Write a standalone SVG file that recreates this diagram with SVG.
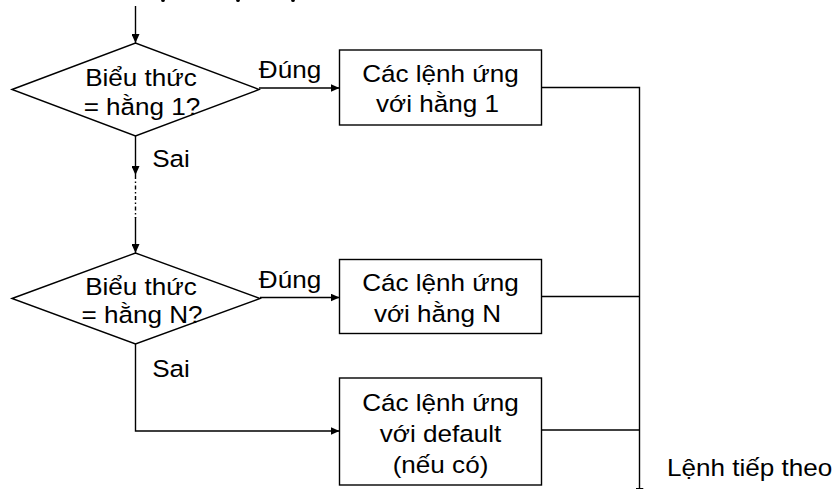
<svg xmlns="http://www.w3.org/2000/svg" width="836" height="489" viewBox="0 0 836 489">
  <style>
    .shape { fill: #fff; stroke: #000; stroke-width: 1.4; }
    .line { fill: none; stroke: #000; stroke-width: 1.4; }
    .dash { stroke-dasharray: 4 2.5 1.5 2.5; }
    .lbl { font-family: "Liberation Sans", Arial, sans-serif; font-size: 23.5px; fill: #000; text-anchor: middle; }
    .lbl-l { font-family: "Liberation Sans", Arial, sans-serif; font-size: 23.5px; fill: #000; text-anchor: start; }
  </style>
  <defs>
    <marker id="arrow" markerUnits="userSpaceOnUse" markerWidth="10" markerHeight="8" refX="9" refY="4" orient="auto">
      <path d="M0,0 L9,4 L0,8 Z" fill="#000"/>
    </marker>
  </defs>
  <rect width="836" height="489" fill="#fff"/>

  <!-- remnants of the heading above the chart -->
  <g id="heading-marks" fill="#000">
    <ellipse cx="163" cy="0.5" rx="1.8" ry="1.5"/>
    <ellipse cx="238" cy="0.5" rx="1.8" ry="1.5"/>
    <ellipse cx="293" cy="0.5" rx="1.8" ry="1.5"/>
  </g>

  <g id="connectors">
    <path class="line" d="M135.5 6 V43" marker-end="url(#arrow)"/>
    <path class="line" d="M135.5 136 V175" marker-end="url(#arrow)"/>
    <path class="line dash" d="M135.5 175 V218"/>
    <path class="line" d="M135.5 217 V253" marker-end="url(#arrow)"/>
    <path class="line" d="M259 88 H339.5" marker-end="url(#arrow)"/>
    <path class="line" d="M260 297.5 H339.5" marker-end="url(#arrow)"/>
    <path class="line" d="M135.5 344 V431 H339.5" marker-end="url(#arrow)"/>
    <path class="line" d="M541.5 87.5 H639.5 V497" marker-end="url(#arrow)"/>
    <path class="line" d="M541.5 296.5 H639.5"/>
    <path class="line" d="M541.5 430 H639.5"/>
    <text class="lbl" transform="translate(290 78) scale(1.11 1)">Đúng</text>
    <text class="lbl" transform="translate(290 288) scale(1.11 1)">Đúng</text>
    <text class="lbl" transform="translate(171 167) scale(1.11 1)">Sai</text>
    <text class="lbl" transform="translate(171 377) scale(1.11 1)">Sai</text>
    <text class="lbl-l" transform="translate(667 476) scale(1.11 1)">Lệnh tiếp theo</text>
  </g>

  <g id="cond-1">
    <polygon class="shape" points="12,89.5 135.5,43 259,89.5 135.5,136"/>
    <text class="lbl" transform="translate(141 85.5) scale(1.11 1)">Biểu thức</text>
    <text class="lbl" transform="translate(142 115) scale(1.11 1)">= hằng 1?</text>
  </g>

  <g id="action-1">
    <rect class="shape" x="339.5" y="50" width="202" height="75"/>
    <text class="lbl" transform="translate(440.5 82) scale(1.11 1)">Các lệnh ứng</text>
    <text class="lbl" transform="translate(437.5 112) scale(1.11 1)">với hằng 1</text>
  </g>

  <g id="cond-n">
    <polygon class="shape" points="12,298.5 135.5,253 260,298.5 135.5,344"/>
    <text class="lbl" transform="translate(141 294.5) scale(1.11 1)">Biểu thức</text>
    <text class="lbl" transform="translate(142 323) scale(1.11 1)">= hằng N?</text>
  </g>

  <g id="action-n">
    <rect class="shape" x="339.5" y="259.5" width="202" height="74"/>
    <text class="lbl" transform="translate(440.5 290.5) scale(1.11 1)">Các lệnh ứng</text>
    <text class="lbl" transform="translate(437.5 321.5) scale(1.11 1)">với hằng N</text>
  </g>

  <g id="action-default">
    <rect class="shape" x="339.5" y="378" width="202" height="107"/>
    <text class="lbl" transform="translate(440.5 410.5) scale(1.11 1)">Các lệnh ứng</text>
    <text class="lbl" transform="translate(440.5 441.5) scale(1.11 1)">với default</text>
    <text class="lbl" transform="translate(440.5 472.5) scale(1.11 1)">(nếu có)</text>
  </g>
</svg>
